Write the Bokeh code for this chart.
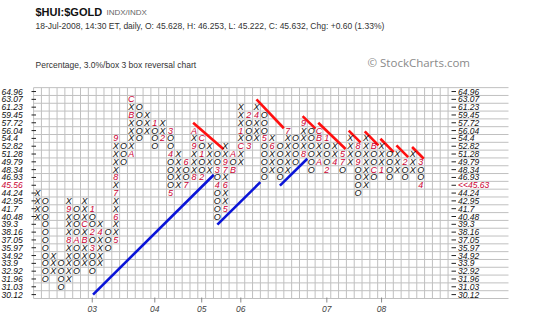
from bokeh.plotting import figure
from bokeh.models import Range1d, Label
from bokeh.embed import file_html
from bokeh.resources import INLINE
from bokeh.core.properties import value

# ---------------- data ----------------
levels = ["30.12", "31.03", "31.96", "32.92", "33.9", "34.92", "35.97", "37.05", "38.16",
          "39.3", "40.48", "41.7", "42.95", "44.24", "45.56", "46.93", "48.34", "49.79",
          "51.28", "52.82", "54.4", "56.04", "57.72", "59.45", "61.23", "63.07", "64.96"]

col_type = ["X", "O"] * 25
col_low = [10, 2, 3, 1, 2, 3, 4, 3, 4, 6,
           7, 17, 18, 20, 21, 19, 20, 13, 14, 14,
           15, 15, 16, 10, 11, 16, 17, 19, 20, 15,
           16, 15, 16, 17, 18, 16, 17, 16, 17, 16,
           17, 13, 14, 15, 16, 15, 16, 15, 16, 14]
col_high = [13, 12, 5, 4, 12, 11, 12, 11, 9, 8,
            20, 19, 25, 24, 23, 22, 22, 21, 18, 17,
            21, 20, 19, 18, 19, 18, 24, 23, 24, 23,
            20, 19, 21, 20, 22, 21, 21, 20, 19, 18,
            20, 19, 20, 19, 19, 18, 18, 17, 18, 17]

month_col = [4, 4, 5, 6, 6, 7, 7, 7, 8, 10, 10, 10, 10, 10, 12, 12, 12, 15, 16, 17, 17, 17,
             19, 19, 20, 20, 20, 21, 21, 21, 23, 23, 24, 24, 24, 24, 25, 25, 26, 26, 27, 27,
             28, 29, 30, 32, 34, 34, 36, 36, 36, 37, 37, 38, 39, 39, 41, 41, 43, 43, 44, 47,
             49, 49]
month_row = [7, 11, 7, 7, 9, 11, 8, 6, 8, 7, 10, 13, 15, 20, 18, 23, 25, 22, 20, 21, 18, 13,
             17, 14, 15, 19, 21, 20, 18, 15, 16, 14, 11, 14, 16, 17, 18, 16, 19, 21, 23, 19,
             23, 20, 19, 21, 18, 22, 17, 20, 21, 20, 16, 17, 18, 17, 19, 17, 19, 16, 16, 17,
             17, 14]
month_txt = ["8", "9", "A", "B", "C", "1", "2", "3", "4", "5", "6", "7", "8", "9", "A", "B", "C",
             "1", "2", "3", "4", "5", "6", "7", "8", "9", "A", "C", "1", "2", "3", "4", "5", "6",
             "7", "9", "A", "B", "C", "1", "2", "3", "4", "5", "6", "7", "8", "9", "A", "B", "C",
             "1", "2", "4", "5", "7", "8", "9", "B", "C", "1", "2", "3", "4"]

year_txt = ["03", "04", "05", "06", "07", "08"]
year_col = [7, 15, 21, 26, 37, 44]

# trend lines: start (col,row) and end (col,row)
red_x0 = [19.9, 28.0, 33.9, 35.9, 39.8, 41.85, 43.85, 45.9, 47.9]
red_y0 = [22.0, 25.0, 22.85, 22.0, 21.0, 20.9, 19.95, 19.1, 18.9]
red_x1 = [23.8, 31.5, 35.55, 39.4, 41.3, 43.6, 45.55, 47.4, 49.4]
red_y1 = [18.6, 21.3, 21.25, 18.65, 19.5, 19.1, 18.25, 17.6, 17.4]
blue_x0 = [7.1, 23.0, 31.0]
blue_y0 = [0.0, 8.95, 13.95]
blue_x1 = [22.55, 28.5, 34.5]
blue_y1 = [15.35, 14.4, 17.4]

last_close = "<<45.63"
last_row = 14

# ---------------- geometry ----------------
W, H = 540, 334
NCOLS = 53
X0, DX = 37.0, 7.82       # pixel center of column 0, column pitch
Y0, DY = 294.1, 7.81      # pixel center of row 0, row pitch


def cx(px):
    return (px - X0) / DX


def ry(py):
    return (Y0 - py) / DY


p = figure(width=W, height=H, output_backend="svg", toolbar_location=None,
           x_range=Range1d(cx(0), cx(W)), y_range=Range1d(ry(H), ry(0)),
           x_axis_location=None, y_axis_location=None, min_border=0,
           outline_line_color=None, background_fill_color="white",
           border_fill_color="white")
p.grid.visible = False

nrows = len(levels)
grid_c = "#c0c0c0"
vx = [k - 0.5 for k in range(NCOLS + 1)]
p.segment(x0=vx, y0=[-0.5] * len(vx), x1=vx, y1=[nrows - 0.5] * len(vx),
          line_color=grid_c, line_width=1)
hy = [r - 0.5 for r in range(nrows + 1)]
p.segment(x0=[-0.5] * len(hy), y0=hy, x1=[cx(508)] * len(hy), y1=hy,
          line_color=grid_c, line_width=1)

rows = list(range(nrows))
p.segment(x0=[cx(31)] * nrows, y0=rows, x1=[cx(35.5)] * nrows, y1=rows,
          line_color="#222222", line_width=1)
p.segment(x0=[cx(451)] * nrows, y0=rows, x1=[cx(455.5)] * nrows, y1=rows,
          line_color="#222222", line_width=1)

left_col = ["#cc0033" if lv == "45.56" else "#111111" for lv in levels]
p.text(x=[cx(1)] * nrows, y=rows, text=levels, text_font=value("Liberation Sans"),
       text_font_style="italic", text_font_size="8.5px", text_color=left_col,
       text_align="left", text_baseline="middle")
right_txt = [last_close if r == last_row else levels[r] for r in rows]
right_col = ["#cc0033" if r == last_row else "#111111" for r in rows]
p.text(x=[cx(457.5)] * nrows, y=rows, text=right_txt, text_font=value("Liberation Sans"),
       text_font_style="italic", text_font_size="8.5px", text_color=right_col,
       text_align="left", text_baseline="middle")

p.segment(x0=year_col, y0=[ry(297)] * len(year_col), x1=year_col, y1=[ry(302)] * len(year_col),
          line_color="#888888", line_width=1)
p.text(x=year_col, y=[ry(308)] * len(year_col), text=year_txt,
       text_font=value("Liberation Sans"), text_font_style="italic", text_font_size="8.5px",
       text_color="#444444", text_align="center", text_baseline="middle")

p.segment(x0=blue_x0, y0=blue_y0, x1=blue_x1, y1=blue_y1, line_color="#0a14d8", line_width=2.6)
p.segment(x0=red_x0, y0=red_y0, x1=red_x1, y1=red_y1, line_color="#ff1010", line_width=2.6)

months = {(c, r): t for c, r, t in zip(month_col, month_row, month_txt)}
sx, sy, st = [], [], []
for k, (t, lo, hi) in enumerate(zip(col_type, col_low, col_high)):
    for r in range(lo, hi + 1):
        if (k, r) in months:
            continue
        sx.append(k)
        sy.append(r)
        st.append(t)
p.text(x=sx, y=sy, text=st, text_font=value("Liberation Sans"), text_font_style="italic",
       text_font_size="9px", text_color="#111111", text_align="center", text_baseline="middle")
p.text(x=month_col, y=month_row, text=month_txt, text_font=value("Liberation Sans"),
       text_font_style="italic", text_font_size="9px", text_color="#cc0033",
       text_align="center", text_baseline="middle")

p.add_layout(Label(x=cx(35), y=ry(11), text="$HUI:$GOLD", text_font="Liberation Sans",
                   text_font_style="bold", text_font_size="11px", text_color="#111111",
                   text_baseline="middle"))
p.add_layout(Label(x=cx(106), y=ry(12), text="INDX/INDX", text_font="Liberation Sans",
                   text_font_size="8px", text_color="#666666", text_baseline="middle"))
p.add_layout(Label(x=cx(35), y=ry(25),
                   text="18-Jul-2008, 14:30 ET, daily, O: 45.628, H: 46.253, L: 45.222, C: 45.632, Chg: +0.60 (1.33%)",
                   text_font="Liberation Sans", text_font_size="8.5px", text_color="#333333",
                   text_baseline="middle"))
p.add_layout(Label(x=cx(35), y=ry(64), text="Percentage, 3.0%/box 3 box reversal chart",
                   text_font="Liberation Sans", text_font_size="8.5px", text_color="#333333",
                   text_baseline="middle"))
p.add_layout(Label(x=cx(367), y=ry(62), text="\u00a9 StockCharts.com", text_font="Open Sans",
                   text_font_size="11.5px", text_color="#8a8a8a", text_baseline="middle"))

open("out.html", "w").write(file_html(p, INLINE))
